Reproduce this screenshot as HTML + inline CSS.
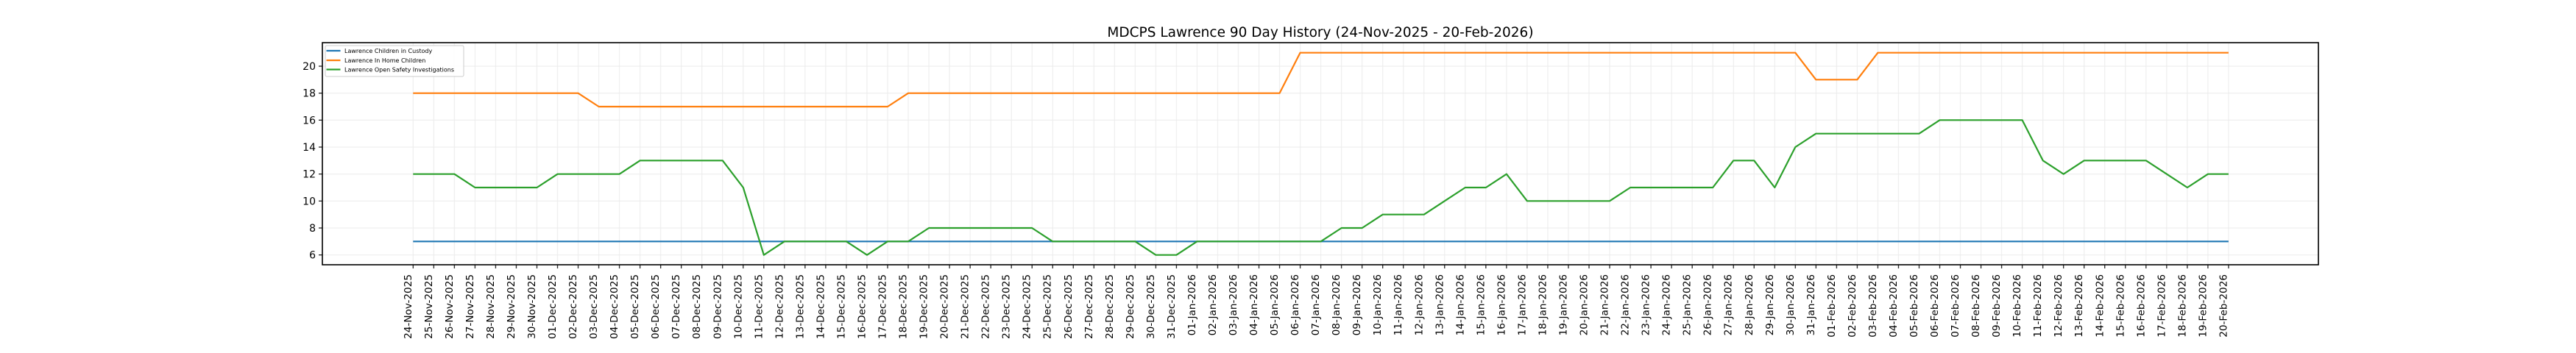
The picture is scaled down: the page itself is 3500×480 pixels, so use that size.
<!DOCTYPE html>
<html><head><meta charset="utf-8"><style>html,body{margin:0;padding:0;background:#fff}svg{display:block}</style></head>
<body>
<svg width="3500" height="480" viewBox="0 0 3500 480" xmlns="http://www.w3.org/2000/svg" font-family="'DejaVu Sans','Liberation Sans',sans-serif">
<defs>
<pattern id="vg" x="547.3" y="0" width="28.03" height="480" patternUnits="userSpaceOnUse"><line x1="14" y1="0" x2="14" y2="480" stroke="#ebebeb" stroke-width="1"/></pattern>
<pattern id="tk" x="547.3" y="0" width="28.03" height="480" patternUnits="userSpaceOnUse"><line x1="14" y1="0" x2="14" y2="480" stroke="#000" stroke-width="1.1"/></pattern>
</defs>
<rect width="3500" height="480" fill="#fff"/>
<text x="1794" y="50" font-size="18.5" text-anchor="middle">MDCPS Lawrence 90 Day History (24-Nov-2025 - 20-Feb-2026)</text>
<rect x="553" y="58" width="2482" height="302" fill="url(#vg)"/>
<g stroke="#ebebeb" stroke-width="1">
<line x1="438" x2="3150" y1="90" y2="90"/><line x1="438" x2="3150" y1="126.67" y2="126.67"/><line x1="438" x2="3150" y1="163.3" y2="163.3"/><line x1="438" x2="3150" y1="200" y2="200"/><line x1="438" x2="3150" y1="236.7" y2="236.7"/><line x1="438" x2="3150" y1="273.3" y2="273.3"/><line x1="438" x2="3150" y1="310" y2="310"/><line x1="438" x2="3150" y1="346.7" y2="346.7"/>
</g>
<g fill="none" stroke-width="2.2" stroke-linejoin="round">
<polyline stroke="#1f77b4" points="561.3,328.3 3027.9,328.3"/>
<polyline stroke="#ff7f0e" points="561.3,126.67 785.5,126.67 813.6,145 1206,145 1234,126.67 1738.6,126.67 1766.6,71.67 2439.3,71.67 2467.3,108.33 2523.4,108.33 2551.4,71.67 3027.9,71.67"/>
<polyline stroke="#2ca02c" points="561.3,236.7 589.3,236.7 617.4,236.7 645.4,255 673.4,255 701.5,255 729.5,255 757.5,236.7 785.5,236.7 813.6,236.7 841.6,236.7 869.6,218.3 897.7,218.3 925.7,218.3 953.7,218.3 981.8,218.3 1009.8,255 1037.8,346.7 1065.8,328.3 1093.9,328.3 1121.9,328.3 1149.9,328.3 1178,346.7 1206,328.3 1234,328.3 1262.1,310 1290.1,310 1318.1,310 1346.1,310 1374.2,310 1402.2,310 1430.2,328.3 1458.3,328.3 1486.3,328.3 1514.3,328.3 1542.4,328.3 1570.4,346.7 1598.4,346.7 1626.4,328.3 1654.5,328.3 1682.5,328.3 1710.5,328.3 1738.6,328.3 1766.6,328.3 1794.6,328.3 1822.7,310 1850.7,310 1878.7,291.7 1906.7,291.7 1934.8,291.7 1962.8,273.3 1990.8,255 2018.9,255 2046.9,236.7 2074.9,273.3 2103,273.3 2131,273.3 2159,273.3 2187,273.3 2215.1,255 2243.1,255 2271.1,255 2299.2,255 2327.2,255 2355.2,218.3 2383.3,218.3 2411.3,255 2439.3,200 2467.3,181.7 2495.4,181.7 2523.4,181.7 2551.4,181.7 2579.5,181.7 2607.5,181.7 2635.5,163.3 2663.6,163.3 2691.6,163.3 2719.6,163.3 2747.6,163.3 2775.7,218.3 2803.7,236.7 2831.7,218.3 2859.8,218.3 2887.8,218.3 2915.8,218.3 2943.9,236.7 2971.9,255 2999.9,236.7 3027.9,236.7"/>
</g>
<rect x="438" y="58" width="2712" height="302" fill="none" stroke="#000" stroke-width="1.6"/>
<rect x="553" y="360" width="2482" height="5" fill="url(#tk)"/>
<g stroke="#000" stroke-width="1.1">
<line x1="433" x2="438" y1="90" y2="90"/><line x1="433" x2="438" y1="126.67" y2="126.67"/><line x1="433" x2="438" y1="163.3" y2="163.3"/><line x1="433" x2="438" y1="200" y2="200"/><line x1="433" x2="438" y1="236.7" y2="236.7"/><line x1="433" x2="438" y1="273.3" y2="273.3"/><line x1="433" x2="438" y1="310" y2="310"/><line x1="433" x2="438" y1="346.7" y2="346.7"/>
</g>
<g font-size="14" text-anchor="end">
<text x="429" y="95">20</text><text x="429" y="131.7">18</text><text x="429" y="168.3">16</text><text x="429" y="205">14</text><text x="429" y="241.7">12</text><text x="429" y="278.3">10</text><text x="429" y="315">8</text><text x="429" y="351.7">6</text>
</g>
<g transform="rotate(-90)" font-size="13.6" text-anchor="end">
<text x="-373" y="558.8">24-Nov-2025</text><text x="-373" y="586.8">25-Nov-2025</text><text x="-373" y="614.9">26-Nov-2025</text><text x="-373" y="642.9">27-Nov-2025</text><text x="-373" y="670.9">28-Nov-2025</text><text x="-373" y="699">29-Nov-2025</text><text x="-373" y="727">30-Nov-2025</text><text x="-373" y="755">01-Dec-2025</text><text x="-373" y="783">02-Dec-2025</text><text x="-373" y="811.1">03-Dec-2025</text><text x="-373" y="839.1">04-Dec-2025</text><text x="-373" y="867.1">05-Dec-2025</text><text x="-373" y="895.2">06-Dec-2025</text><text x="-373" y="923.2">07-Dec-2025</text><text x="-373" y="951.2">08-Dec-2025</text><text x="-373" y="979.3">09-Dec-2025</text><text x="-373" y="1007.3">10-Dec-2025</text><text x="-373" y="1035.3">11-Dec-2025</text><text x="-373" y="1063.3">12-Dec-2025</text><text x="-373" y="1091.4">13-Dec-2025</text><text x="-373" y="1119.4">14-Dec-2025</text><text x="-373" y="1147.4">15-Dec-2025</text><text x="-373" y="1175.5">16-Dec-2025</text><text x="-373" y="1203.5">17-Dec-2025</text><text x="-373" y="1231.5">18-Dec-2025</text><text x="-373" y="1259.6">19-Dec-2025</text><text x="-373" y="1287.6">20-Dec-2025</text><text x="-373" y="1315.6">21-Dec-2025</text><text x="-373" y="1343.6">22-Dec-2025</text><text x="-373" y="1371.7">23-Dec-2025</text><text x="-373" y="1399.7">24-Dec-2025</text><text x="-373" y="1427.7">25-Dec-2025</text><text x="-373" y="1455.8">26-Dec-2025</text><text x="-373" y="1483.8">27-Dec-2025</text><text x="-373" y="1511.8">28-Dec-2025</text><text x="-373" y="1539.9">29-Dec-2025</text><text x="-373" y="1567.9">30-Dec-2025</text><text x="-373" y="1595.9">31-Dec-2025</text><text x="-373" y="1623.9">01-Jan-2026</text><text x="-373" y="1652">02-Jan-2026</text><text x="-373" y="1680">03-Jan-2026</text><text x="-373" y="1708">04-Jan-2026</text><text x="-373" y="1736.1">05-Jan-2026</text><text x="-373" y="1764.1">06-Jan-2026</text><text x="-373" y="1792.1">07-Jan-2026</text><text x="-373" y="1820.2">08-Jan-2026</text><text x="-373" y="1848.2">09-Jan-2026</text><text x="-373" y="1876.2">10-Jan-2026</text><text x="-373" y="1904.2">11-Jan-2026</text><text x="-373" y="1932.3">12-Jan-2026</text><text x="-373" y="1960.3">13-Jan-2026</text><text x="-373" y="1988.3">14-Jan-2026</text><text x="-373" y="2016.4">15-Jan-2026</text><text x="-373" y="2044.4">16-Jan-2026</text><text x="-373" y="2072.4">17-Jan-2026</text><text x="-373" y="2100.5">18-Jan-2026</text><text x="-373" y="2128.5">19-Jan-2026</text><text x="-373" y="2156.5">20-Jan-2026</text><text x="-373" y="2184.5">21-Jan-2026</text><text x="-373" y="2212.6">22-Jan-2026</text><text x="-373" y="2240.6">23-Jan-2026</text><text x="-373" y="2268.6">24-Jan-2026</text><text x="-373" y="2296.7">25-Jan-2026</text><text x="-373" y="2324.7">26-Jan-2026</text><text x="-373" y="2352.7">27-Jan-2026</text><text x="-373" y="2380.8">28-Jan-2026</text><text x="-373" y="2408.8">29-Jan-2026</text><text x="-373" y="2436.8">30-Jan-2026</text><text x="-373" y="2464.8">31-Jan-2026</text><text x="-373" y="2492.9">01-Feb-2026</text><text x="-373" y="2520.9">02-Feb-2026</text><text x="-373" y="2548.9">03-Feb-2026</text><text x="-373" y="2577">04-Feb-2026</text><text x="-373" y="2605">05-Feb-2026</text><text x="-373" y="2633">06-Feb-2026</text><text x="-373" y="2661.1">07-Feb-2026</text><text x="-373" y="2689.1">08-Feb-2026</text><text x="-373" y="2717.1">09-Feb-2026</text><text x="-373" y="2745.1">10-Feb-2026</text><text x="-373" y="2773.2">11-Feb-2026</text><text x="-373" y="2801.2">12-Feb-2026</text><text x="-373" y="2829.2">13-Feb-2026</text><text x="-373" y="2857.3">14-Feb-2026</text><text x="-373" y="2885.3">15-Feb-2026</text><text x="-373" y="2913.3">16-Feb-2026</text><text x="-373" y="2941.4">17-Feb-2026</text><text x="-373" y="2969.4">18-Feb-2026</text><text x="-373" y="2997.4">19-Feb-2026</text><text x="-373" y="3025.4">20-Feb-2026</text>
</g>
<rect x="442" y="62" width="188" height="42" rx="2" fill="#fff" fill-opacity="0.85" stroke="#cccccc" stroke-width="1"/>
<g stroke-width="2.2">
<line x1="443.5" x2="462.5" y1="69" y2="69" stroke="#1f77b4"/>
<line x1="443.5" x2="462.5" y1="82" y2="82" stroke="#ff7f0e"/>
<line x1="443.5" x2="462.5" y1="94.5" y2="94.5" stroke="#2ca02c"/>
</g>
<g font-size="8">
<text x="468" y="72">Lawrence Children in Custody</text>
<text x="468" y="85">Lawrence In Home Children</text>
<text x="468" y="97.5">Lawrence Open Safety Investigations</text>
</g>
</svg>
</body></html>
